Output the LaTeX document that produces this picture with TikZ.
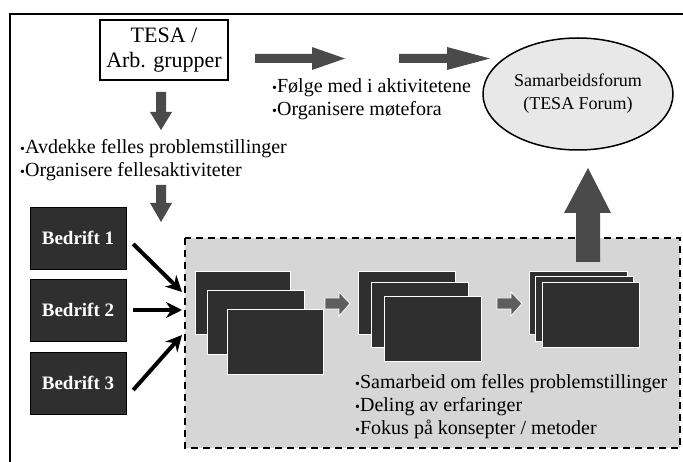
\documentclass[tikz,border=0pt]{standalone}
\usepackage{fontspec}
\setmainfont{Liberation Serif}
\usetikzlibrary{arrows.meta,shapes.geometric}
\definecolor{boxgray}{HTML}{D6D6D6}
\definecolor{ellgray}{HTML}{E8E8E8}
\definecolor{darkfill}{HTML}{2F2F2F}
\definecolor{arrgray}{HTML}{4A4A4A}
\definecolor{smallarr}{HTML}{5E5E5E}
\newcommand{\bul}{{\fontsize{14}{14}\selectfont •}}
\tikzset{
  txt/.style={font=\fontsize{20}{23}\selectfont, align=left, inner sep=0pt, anchor=west},
  bigtxt/.style={font=\fontsize{22}{25}\selectfont, align=center},
  bedrift/.style={draw=black, fill=darkfill, minimum width=96pt, minimum height=62pt, inner sep=0pt,
     text=white, font=\fontsize{19}{19}\selectfont\bfseries},
  card/.style={draw=white, line width=1pt, fill=darkfill},
  blockarr/.style={fill=arrgray, draw=none},
  smallblk/.style={fill=smallarr, draw=white, line width=0.8pt},
  linkarr/.style={line width=4pt, -{Stealth[length=16pt,width=16pt]}},
}
\begin{document}
\begin{tikzpicture}[x=1pt,y=-1pt]
\useasboundingbox (0,0) rectangle (683,462);
\fill[white] (0,0) rectangle (683,462);
% outer frame (cut at right and bottom)
\draw[line width=2pt] (690,14) -- (10,14) -- (10,470);
% dashed box
\draw[fill=boxgray, dashed, dash pattern=on 7pt off 5pt, line width=2pt] (185,238) rectangle (680,448);
% TESA box
\node[draw, line width=1.2pt, minimum width=128pt, minimum height=60pt, bigtxt, inner sep=0pt] (tesa) at (164,50) {TESA /\\Arb. grupper};
% ellipse
\node[ellipse, draw, line width=1.5pt, fill=ellgray, minimum width=190pt, minimum height=112pt, inner sep=0pt,
      font=\fontsize{18}{23}\selectfont, align=center] (forum) at (578,94) {Samarbeidsforum\\(TESA Forum)};
% right block arrows
\fill[blockarr] (255,54) -- (312,54) -- (312,47) -- (345,58.5) -- (312,70) -- (312,63) -- (255,63) -- cycle;
\fill[blockarr] (399,54) -- (447,54) -- (447,47) -- (490,58.5) -- (447,70) -- (447,63) -- (399,63) -- cycle;
% down block arrows
\fill[blockarr] (156,92) -- (166,92) -- (166,112) -- (172,112) -- (161,130) -- (150,112) -- (156,112) -- cycle;
\fill[blockarr] (156,185) -- (166,185) -- (166,203) -- (172,203) -- (161,222) -- (150,203) -- (156,203) -- cycle;
% texts
\node[txt] (t1) at (272,99) {\bul Følge med i aktivitetene\\\bul Organisere møtefora};
\node[txt] (t2) at (20,160) {\bul Avdekke felles problemstillinger\\\bul Organisere fellesaktiviteter};
% Bedrift boxes
\node[bedrift] (b1) at (78,238) {Bedrift 1};
\node[bedrift] (b2) at (78,310) {Bedrift 2};
\node[bedrift] (b3) at (78,383) {Bedrift 3};
\coordinate (e1) at (182,292);
\coordinate (e2) at (182,310);
\coordinate (e3) at (182,335);
\draw[linkarr] (b1.east) ++(7,6) -- (e1);
\draw[linkarr] (b2.east) ++(7,0) -- (e2);
\draw[linkarr] (b3.east) ++(7,7) -- (e3);
% stack 1
\draw[card] (195,272) rectangle (290,335);
\draw[card] (207,291) rectangle (304,355);
\draw[card] (227,310) rectangle (323,375);
% small arrows
\draw[smallblk] (325,298) -- (339,298) -- (339,292) -- (350,303.5) -- (339,316) -- (339,309) -- (325,309) -- cycle;
\draw[smallblk] (497,298) -- (511,298) -- (511,292) -- (522,303.5) -- (511,316) -- (511,309) -- (497,309) -- cycle;
% stack 2
\draw[card] (358,272) rectangle (455,335);
\draw[card] (371,283) rectangle (468,348);
\draw[card] (384,297) rectangle (481,362);
% stack 3
\draw[card] (529,272) rectangle (627,335);
\draw[card] (535,277) rectangle (633,342);
\draw[card] (542,283) rectangle (639,348);
% big up arrow
\fill[blockarr] (576,262) -- (576,213) -- (564,213) -- (588,168) -- (611,213) -- (600,213) -- (600,262) -- cycle;
% box text
\node[txt] (t3) at (355,407) {\bul Samarbeid om felles problemstillinger\\\bul Deling av erfaringer\\\bul Fokus på konsepter / metoder};
\end{tikzpicture}
\end{document}
